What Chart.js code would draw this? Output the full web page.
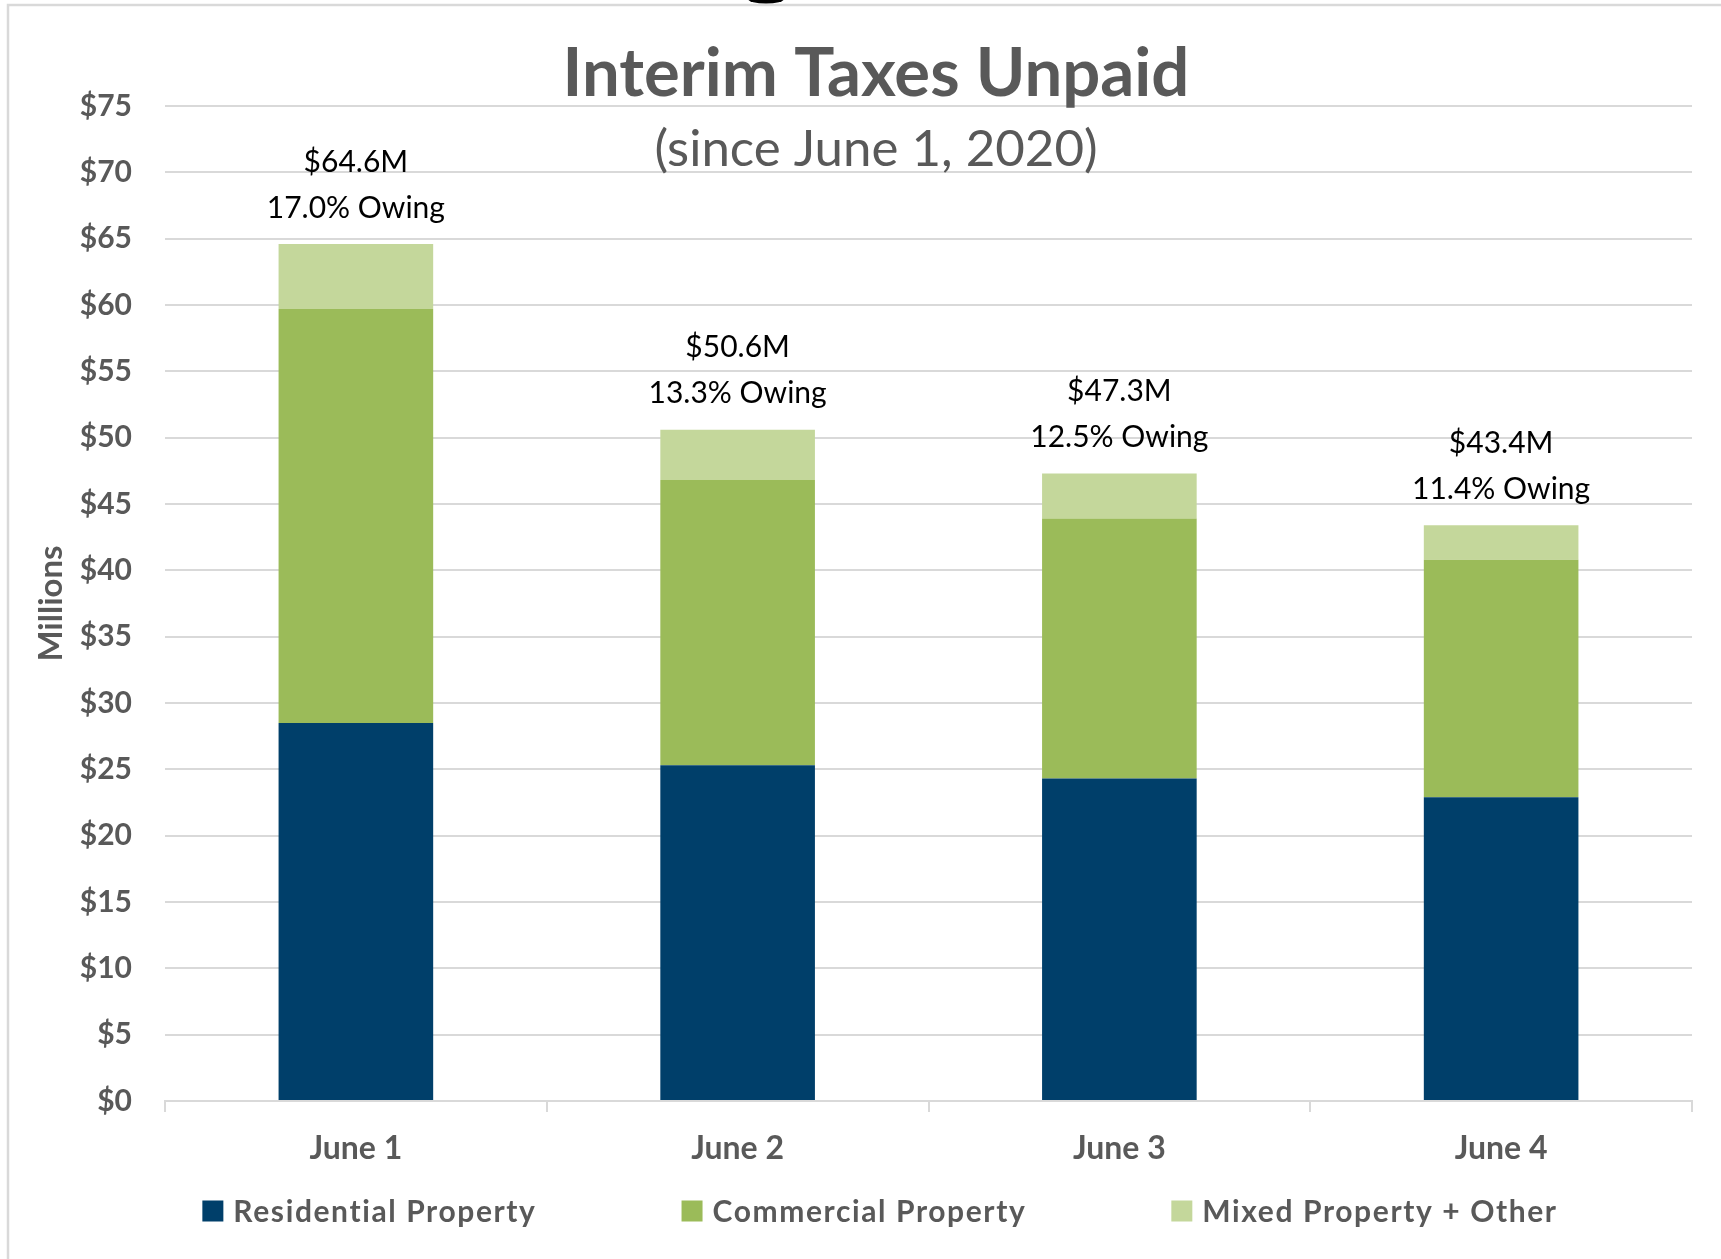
<!DOCTYPE html>
<html>
<head>
<meta charset="utf-8">
<script src="https://cdn.jsdelivr.net/npm/chart.js@4.4.0/dist/chart.umd.min.js"></script>
<style>
  html, body { margin: 0; padding: 0; background: #ffffff; }
  #wrap { width: 1721px; height: 1259px; position: relative; }
  canvas { display: block; }
</style>
</head>
<body>
<div id="wrap"><canvas id="c" width="1721" height="1259"></canvas></div>
<script>
// ---- Data ----
const categories = ['June 1', 'June 2', 'June 3', 'June 4'];
const seriesNames = ['Residential Property', 'Commercial Property', 'Mixed Property + Other'];
const residential = [28.5, 25.3, 24.3, 22.9];
const commercial = [31.2, 21.5, 19.6, 17.9];
const mixedOther = [4.9, 3.8, 3.4, 2.6];
const owingPct = ['17.0%', '13.3%', '12.5%', '11.4%'];
const chartTitle = 'Interim Taxes Unpaid';
const chartSubtitle = '(since June 1, 2020)';
const yAxisTitle = 'Millions';

// ---- Styles ----
const FONT = 'Lato';
const GRAY = '#595959';
const GRID = '#d9d9d9';
const colors = ['#003F6A', '#9BBB59', '#C4D79B'];

const framePlugin = {
  id: 'frame',
  beforeDraw(chart) {
    const ctx = chart.ctx;
    ctx.save();
    ctx.fillStyle = '#ffffff';
    ctx.fillRect(0, 0, chart.width, chart.height);
    ctx.strokeStyle = GRID;
    ctx.lineWidth = 2.5;
    ctx.beginPath();
    ctx.moveTo(8, chart.height + 5);
    ctx.lineTo(8, 5);
    ctx.lineTo(chart.width + 5, 5);
    ctx.stroke();
    // fragment of a glyph cut off at the top edge
    ctx.fillStyle = '#000000';
    ctx.beginPath();
    ctx.ellipse(766, -1, 18, 4.5, 0, 0, Math.PI * 2);
    ctx.fill();
    ctx.restore();
  }
};

const titlePlugin = {
  id: 'titles',
  afterDraw(chart) {
    const ctx = chart.ctx;
    ctx.save();
    ctx.fillStyle = GRAY;
    ctx.textAlign = 'center';
    ctx.textBaseline = 'middle';
    ctx.font = `bold 67px ${FONT}`;
    ctx.fillText(chartTitle, 876, 74);
    ctx.font = `51px ${FONT}`;
    ctx.fillText(chartSubtitle, 876, 150);
    ctx.restore();
  }
};

const totalsPlugin = {
  id: 'totals',
  afterDatasetsDraw(chart) {
    const ctx = chart.ctx;
    const xs = chart.scales.x, ys = chart.scales.y;
    ctx.save();
    ctx.fillStyle = '#000000';
    ctx.textAlign = 'center';
    ctx.textBaseline = 'middle';
    ctx.font = `30px ${FONT}`;
    categories.forEach((c, i) => {
      const total = residential[i] + commercial[i] + mixedOther[i];
      const x = xs.getPixelForValue(i);
      const yTop = ys.getPixelForValue(total);
      ctx.fillText('$' + total.toFixed(1) + 'M', x, yTop - 82);
      ctx.fillText(owingPct[i] + ' Owing', x, yTop - 36);
    });
    ctx.restore();
  }
};

const legendPlugin = {
  id: 'customLegend',
  afterDraw(chart) {
    const ctx = chart.ctx;
    const box = 21, gapText = 10, gapItem = 145, cy = 1211, cx = 880;
    ctx.save();
    ctx.font = `bold 30px ${FONT}`;
    ctx.letterSpacing = '1.6px';
    ctx.textBaseline = 'middle';
    ctx.textAlign = 'left';
    const items = chart.data.datasets.map(d => ({ label: d.label, color: d.backgroundColor, w: ctx.measureText(d.label).width }));
    let total = 0;
    items.forEach((it, i) => { total += box + gapText + it.w + (i < items.length - 1 ? gapItem : 0); });
    let x = cx - total / 2;
    items.forEach(it => {
      ctx.fillStyle = it.color;
      ctx.fillRect(x, cy - box / 2, box, box);
      ctx.fillStyle = GRAY;
      ctx.fillText(it.label, x + box + gapText, cy + 1);
      x += box + gapText + it.w + gapItem;
    });
    ctx.restore();
  }
};

new Chart(document.getElementById('c'), {
  type: 'bar',
  data: {
    labels: categories,
    datasets: [
      { label: seriesNames[0], data: residential, backgroundColor: colors[0] },
      { label: seriesNames[1], data: commercial, backgroundColor: colors[1] },
      { label: seriesNames[2], data: mixedOther, backgroundColor: colors[2] }
    ]
  },
  options: {
    responsive: false,
    animation: false,
    devicePixelRatio: 1,
    layout: { padding: { top: 106, right: 29, bottom: 91, left: 0 } },
    datasets: { bar: { categoryPercentage: 1.0, barPercentage: 0.405, borderWidth: 0 } },
    plugins: {
      legend: { display: false },
      title: { display: false },
      tooltip: { enabled: false }
    },
    scales: {
      x: {
        stacked: true,
        afterFit(s) { s.height = 67; },
        grid: { display: true, drawOnChartArea: false, drawTicks: true, tickLength: 11, offset: true, color: GRID, lineWidth: 2 },
        border: { display: true, color: GRID, width: 2 },
        ticks: { color: GRAY, padding: 17, font: { family: FONT, size: 32, weight: 'bold' } }
      },
      y: {
        stacked: true,
        min: 0,
        max: 75,
        afterFit(s) { s.width = 165; },
        grid: { color: GRID, lineWidth: 2, drawTicks: false },
        border: { display: false },
        ticks: {
          stepSize: 5,
          padding: 33,
          color: GRAY,
          font: { family: FONT, size: 30, weight: 'bold' },
          callback: v => '$' + v
        },
        title: {
          display: true,
          text: yAxisTitle,
          color: GRAY,
          padding: { top: 32, bottom: 0 },
          font: { family: FONT, size: 33, weight: 'bold' }
        }
      }
    }
  },
  plugins: [framePlugin, titlePlugin, totalsPlugin, legendPlugin]
});
</script>
</body>
</html>
